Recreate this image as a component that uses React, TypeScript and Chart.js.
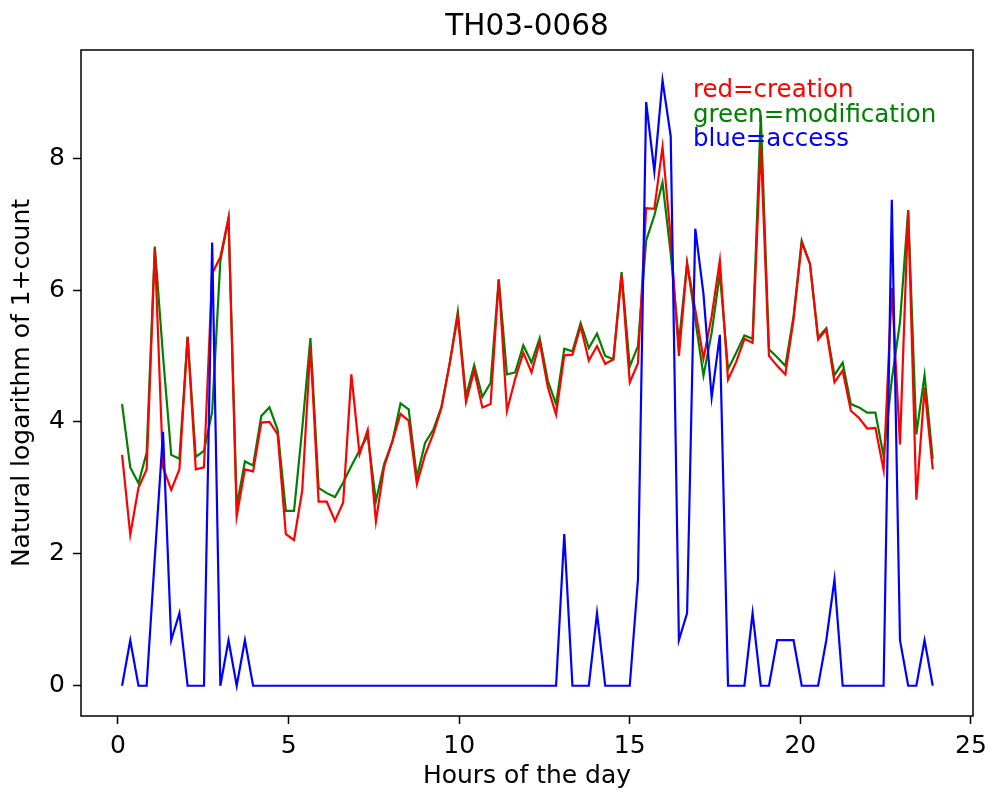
import { useEffect, useRef } from "react";
import { Chart, registerables } from "chart.js";

Chart.register(...registerables);

const HOURS = [
  0.12, 0.36, 0.6, 0.84, 1.08, 1.32, 1.56, 1.8, 2.04, 2.28,
  2.52, 2.76, 3.0, 3.24, 3.48, 3.72, 3.96, 4.2, 4.44, 4.68,
  4.92, 5.16, 5.4, 5.64, 5.88, 6.12, 6.36, 6.6, 6.84, 7.08,
  7.32, 7.56, 7.8, 8.04, 8.28, 8.52, 8.76, 9.0, 9.24, 9.48,
  9.72, 9.96, 10.2, 10.44, 10.68, 10.92, 11.16, 11.4, 11.64, 11.88,
  12.12, 12.36, 12.6, 12.84, 13.08, 13.32, 13.56, 13.8, 14.04, 14.28,
  14.52, 14.76, 15.0, 15.24, 15.48, 15.72, 15.96, 16.2, 16.44, 16.68,
  16.92, 17.16, 17.4, 17.64, 17.88, 18.12, 18.36, 18.6, 18.84, 19.08,
  19.32, 19.56, 19.8, 20.04, 20.28, 20.52, 20.76, 21.0, 21.24, 21.48,
  21.72, 21.96, 22.2, 22.44, 22.68, 22.92, 23.16, 23.4, 23.64, 23.88,
];

const CREATION = [
  3.5, 2.29, 3.0, 3.28, 6.63, 3.31, 2.97, 3.28, 5.29, 3.28,
  3.31, 6.25, 6.5, 7.09, 2.57, 3.28, 3.25, 3.99, 4.0, 3.81,
  2.3, 2.21, 2.96, 5.15, 2.79, 2.79, 2.5, 2.78, 4.72, 3.51,
  3.88, 2.49, 3.32, 3.7, 4.12, 4.02, 3.06, 3.5, 3.82, 4.21,
  4.88, 5.6, 4.3, 4.78, 4.22, 4.27, 6.16, 4.17, 4.65, 5.05,
  4.75, 5.21, 4.52, 4.11, 5.01, 5.02, 5.45, 4.93, 5.15, 4.88,
  4.95, 6.23, 4.6, 4.89, 7.24, 7.23, 8.17, 6.8, 5.0, 6.4,
  5.7, 4.96, 5.6, 6.45, 4.64, 4.91, 5.26, 5.2, 8.2, 5.0,
  4.85, 4.72, 5.55, 6.72, 6.4, 5.25, 5.4, 4.6, 4.78, 4.17,
  4.06, 3.9, 3.91, 3.27, 6.03, 3.66, 7.21, 2.82, 4.52, 3.28,
];

const MODIFICATION = [
  4.27, 3.31, 3.07, 3.53, 6.66, 5.0, 3.5, 3.44, 5.29, 3.47,
  3.56, 4.15, 6.44, 7.09, 2.72, 3.4, 3.34, 4.09, 4.22, 3.88,
  2.65, 2.65, 3.9, 5.27, 3.0, 2.92, 2.86, 3.08, 3.33, 3.57,
  3.79, 2.8, 3.36, 3.7, 4.28, 4.19, 3.16, 3.68, 3.88, 4.23,
  4.88, 5.67, 4.39, 4.86, 4.38, 4.59, 6.16, 4.72, 4.75, 5.16,
  4.9, 5.27, 4.62, 4.27, 5.11, 5.07, 5.5, 5.12, 5.34, 5.0,
  4.95, 6.27, 4.84, 5.15, 6.75, 7.13, 7.63, 6.55, 5.2, 6.41,
  5.55, 4.7, 5.35, 6.25, 4.8, 5.05, 5.31, 5.26, 8.65, 5.1,
  4.98, 4.85, 5.6, 6.75, 6.4, 5.28, 5.42, 4.71, 4.9, 4.27,
  4.22, 4.14, 4.14, 3.48, 4.64, 5.51, 7.21, 3.81, 4.71, 3.44,
];

const ACCESS = [
  0, 0.69, 0, 0, 1.95, 3.85, 0.69, 1.1, 0, 0,
  0, 6.72, 0, 0.69, 0, 0.69, 0, 0, 0, 0,
  0, 0, 0, 0, 0, 0, 0, 0, 0, 0,
  0, 0, 0, 0, 0, 0, 0, 0, 0, 0,
  0, 0, 0, 0, 0, 0, 0, 0, 0, 0,
  0, 0, 0, 0, 2.3, 0, 0, 0, 1.1, 0,
  0, 0, 0, 1.61, 8.85, 7.8, 9.18, 8.33, 0.69, 1.1,
  6.93, 5.94, 4.37, 5.32, 0, 0, 0, 1.1, 0, 0,
  0.69, 0.69, 0.69, 0, 0, 0, 0.69, 1.61, 0, 0,
  0, 0, 0, 0, 7.37, 0.69, 0, 0, 0.69, 0,
];

const X_TICKS = [0, 5, 10, 15, 20, 25];
const Y_TICKS = [0, 2, 4, 6, 8];
const TITLE = "TH03-0068";
const X_LABEL = "Hours of the day";
const Y_LABEL = "Natural logarithm of 1+count";
const NOTES = ["red=creation", "green=modification", "blue=access"];
const NOTE_COLORS = ["#ff0000", "#008000", "#0000ff"];
const NOTE_X = 16.85;
const NOTE_Y = [8.93, 8.55, 8.18];

const FONT = "'DejaVu Sans', sans-serif";

export default function App() {
  const ref = useRef<HTMLCanvasElement | null>(null);

  useEffect(() => {
    if (!ref.current) return;
    const toPts = (ys: number[]) => ys.map((y, i) => ({ x: HOURS[i], y }));

    const decor = {
      id: "decor",
      afterDraw(chart: any) {
        const { ctx, chartArea, scales } = chart;
        ctx.save();
        ctx.strokeStyle = "#000";
        ctx.lineWidth = 1.5;
        ctx.strokeRect(
          chartArea.left,
          chartArea.top,
          chartArea.right - chartArea.left,
          chartArea.bottom - chartArea.top
        );
        ctx.fillStyle = "#000";
        ctx.font = `29.5px ${FONT}`;
        ctx.textAlign = "center";
        ctx.textBaseline = "alphabetic";
        ctx.fillText(TITLE, (chartArea.left + chartArea.right) / 2, 35);
        ctx.font = `24.5px ${FONT}`;
        ctx.textAlign = "left";
        NOTES.forEach((t, i) => {
          ctx.fillStyle = NOTE_COLORS[i];
          ctx.fillText(
            t,
            scales.x.getPixelForValue(NOTE_X),
            scales.y.getPixelForValue(NOTE_Y[i])
          );
        });
        ctx.restore();
      },
    };

    const tickFont = { family: FONT, size: 25 };

    const chart = new Chart(ref.current, {
      type: "line",
      data: {
        datasets: [
          {
            label: "access",
            data: toPts(ACCESS),
            borderColor: "#0000ff",
            backgroundColor: "#0000ff",
          },
          {
            label: "creation",
            data: toPts(CREATION),
            borderColor: "#ff0000",
            backgroundColor: "#ff0000",
          },
          {
            label: "modification",
            data: toPts(MODIFICATION),
            borderColor: "#008000",
            backgroundColor: "#008000",
          },
        ],
      },
      options: {
        animation: false,
        responsive: false,
        devicePixelRatio: 1,
        layout: { padding: { top: 50, right: 17, left: 0, bottom: 0 } },
        plugins: {
          legend: { display: false },
          tooltip: { enabled: false },
          title: { display: false },
        },
        elements: {
          point: { radius: 0 },
          line: { tension: 0, borderWidth: 2.2, fill: false },
        },
        scales: {
          x: {
            type: "linear",
            min: -1.084,
            max: 25.06,
            afterBuildTicks: (s: any) => {
              s.ticks = X_TICKS.map((v) => ({ value: v }));
            },
            afterFit: (s: any) => {
              s.height = 82;
              s.paddingLeft = 0;
              s.paddingRight = 0;
            },
            grid: {
              drawOnChartArea: false,
              drawTicks: true,
              tickLength: 8,
              tickWidth: 1.5,
              tickColor: "#000",
            },
            border: { display: false },
            ticks: {
              color: "#000",
              font: tickFont,
              padding: 7,
              maxRotation: 0,
              autoSkip: false,
              callback: (v: any) => String(v),
            },
            title: {
              display: true,
              text: X_LABEL,
              color: "#000",
              font: tickFont,
              padding: { top: 0, bottom: 7 },
            },
          },
          y: {
            type: "linear",
            min: -0.459,
            max: 9.639,
            afterBuildTicks: (s: any) => {
              s.ticks = Y_TICKS.map((v) => ({ value: v }));
            },
            afterFit: (s: any) => {
              s.width = 81;
              s.paddingTop = 0;
              s.paddingBottom = 0;
            },
            grid: {
              drawOnChartArea: false,
              drawTicks: true,
              tickLength: 8,
              tickWidth: 1.5,
              tickColor: "#000",
            },
            border: { display: false },
            ticks: {
              color: "#000",
              font: tickFont,
              padding: 8,
              autoSkip: false,
              callback: (v: any) => String(v),
            },
            title: {
              display: true,
              text: Y_LABEL,
              color: "#000",
              font: tickFont,
              padding: { top: 7, bottom: 0 },
            },
          },
        },
      },
      plugins: [decor],
    } as any);

    return () => chart.destroy();
  }, []);

  return (
    <div
      style={{
        position: "absolute",
        left: 0,
        top: 0,
        width: 990,
        height: 798,
        background: "#fff",
      }}
    >
      <canvas ref={ref} width={990} height={798} />
    </div>
  );
}
